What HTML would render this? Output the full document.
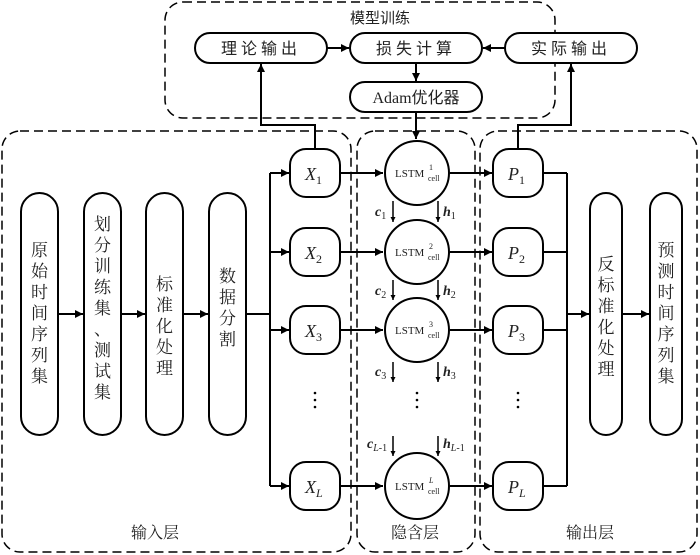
<!DOCTYPE html>
<html><head><meta charset="utf-8"><style>
html,body{margin:0;padding:0;background:#fff;}
svg{display:block;}
text{font-family:"Liberation Serif","Noto Serif CJK SC","Noto Sans CJK SC",serif;fill:#222;}
.cj{font-family:"Noto Sans CJK SC","WenQuanYi Zen Hei",sans-serif;}
</style></head><body>
<svg width="700" height="555" viewBox="0 0 700 555" xmlns="http://www.w3.org/2000/svg">
<defs>
<marker id="a" viewBox="0 0 10 10" refX="10" refY="5" markerWidth="8" markerHeight="8" markerUnits="userSpaceOnUse" orient="auto"><path d="M0,0 L10,5 L0,10 z" fill="#000"/></marker>
<marker id="s" viewBox="0 0 10 10" refX="10" refY="5" markerWidth="5" markerHeight="7" markerUnits="userSpaceOnUse" orient="auto"><path d="M0,0 L10,5 L0,10 z" fill="#000"/></marker>
</defs>
<g fill="none" stroke="#000" stroke-width="1.5" stroke-dasharray="9,5">
<rect x="165" y="2" width="390" height="116" rx="18"/>
<rect x="2" y="131" width="349" height="421" rx="18"/>
<rect x="357" y="131" width="118" height="421" rx="18"/>
<rect x="480" y="131" width="217" height="421" rx="18"/>
</g>
<text x="380" y="23" font-size="15" text-anchor="middle" class="cj">模型训练</text>
<g fill="#fff" stroke="#000" stroke-width="2">
<rect x="195" y="33" width="132" height="30" rx="15"/>
<rect x="350" y="33" width="132" height="30" rx="15"/>
<rect x="505" y="33" width="132" height="30" rx="15"/>
<rect x="350" y="82" width="132" height="30" rx="15"/>
</g>
<text x="261" y="54" font-size="16" text-anchor="middle" class="cj" letter-spacing="4">理论输出</text>
<text x="416" y="54" font-size="16" text-anchor="middle" class="cj" letter-spacing="4">损失计算</text>
<text x="571" y="54" font-size="16" text-anchor="middle" class="cj" letter-spacing="4">实际输出</text>
<text x="416" y="103" font-size="16" text-anchor="middle">Adam<tspan class="cj">优化器</tspan></text>
<g fill="none" stroke="#000" stroke-width="2">
<line x1="327" y1="48" x2="349" y2="48" marker-end="url(#a)"/>
<line x1="505" y1="48" x2="483" y2="48" marker-end="url(#a)"/>
<line x1="416" y1="63" x2="416" y2="81" marker-end="url(#a)"/>
<line x1="416" y1="112" x2="416" y2="139" marker-end="url(#a)"/>
<polyline points="315,148 315,125 261,125 261,64" marker-end="url(#a)"/>
<polyline points="518,148 518,125 571,125 571,64" marker-end="url(#a)"/>
<!-- left pills -->
<rect x="21" y="193" width="37" height="242" rx="18.5"/>
<rect x="84" y="193" width="37" height="242" rx="18.5"/>
<rect x="146" y="193" width="37" height="242" rx="18.5"/>
<rect x="209" y="193" width="37" height="242" rx="18.5"/>
<rect x="590" y="193" width="32" height="242" rx="16"/>
<rect x="650" y="193" width="32" height="242" rx="16"/>
<line x1="58" y1="314" x2="83" y2="314" marker-end="url(#a)"/>
<line x1="121" y1="314" x2="145" y2="314" marker-end="url(#a)"/>
<line x1="183" y1="314" x2="208" y2="314" marker-end="url(#a)"/>
<line x1="246" y1="314" x2="270" y2="314"/>
<line x1="270" y1="173" x2="270" y2="486"/>
<line x1="270" y1="173" x2="289" y2="173" marker-end="url(#a)"/>
<line x1="270" y1="252" x2="289" y2="252" marker-end="url(#a)"/>
<line x1="270" y1="330" x2="289" y2="330" marker-end="url(#a)"/>
<line x1="270" y1="486" x2="289" y2="486" marker-end="url(#a)"/>
<line x1="340" y1="173" x2="383" y2="173" marker-end="url(#a)"/>
<line x1="340" y1="252" x2="383" y2="252" marker-end="url(#a)"/>
<line x1="340" y1="330" x2="383" y2="330" marker-end="url(#a)"/>
<line x1="340" y1="486" x2="383" y2="486" marker-end="url(#a)"/>
<line x1="450" y1="173" x2="492" y2="173" marker-end="url(#a)"/>
<line x1="450" y1="252" x2="492" y2="252" marker-end="url(#a)"/>
<line x1="450" y1="330" x2="492" y2="330" marker-end="url(#a)"/>
<line x1="450" y1="486" x2="492" y2="486" marker-end="url(#a)"/>
<line x1="543" y1="173" x2="567" y2="173"/>
<line x1="543" y1="252" x2="567" y2="252"/>
<line x1="543" y1="330" x2="567" y2="330"/>
<line x1="543" y1="486" x2="567" y2="486"/>
<line x1="567" y1="173" x2="567" y2="486"/>
<line x1="567" y1="314" x2="589" y2="314" marker-end="url(#a)"/>
<line x1="622" y1="314" x2="649" y2="314" marker-end="url(#a)"/>
</g>
<g fill="none" stroke="#000" stroke-width="1.5">
<line x1="393" y1="201" x2="393" y2="222" marker-end="url(#s)"/>
<line x1="438" y1="201" x2="438" y2="222" marker-end="url(#s)"/>
<line x1="393" y1="280" x2="393" y2="300" marker-end="url(#s)"/>
<line x1="438" y1="280" x2="438" y2="300" marker-end="url(#s)"/>
<line x1="393" y1="362" x2="393" y2="382" marker-end="url(#s)"/>
<line x1="438" y1="362" x2="438" y2="382" marker-end="url(#s)"/>
<line x1="393" y1="436" x2="393" y2="456" marker-end="url(#s)"/>
<line x1="438" y1="436" x2="438" y2="456" marker-end="url(#s)"/>
</g>
<g fill="#fff" stroke="#000" stroke-width="2">
<rect x="290" y="149" width="50" height="48" rx="16"/>
<rect x="290" y="228" width="50" height="48" rx="16"/>
<rect x="290" y="306" width="50" height="48" rx="16"/>
<rect x="290" y="462" width="50" height="48" rx="16"/>
<rect x="493" y="149" width="50" height="48" rx="16"/>
<rect x="493" y="228" width="50" height="48" rx="16"/>
<rect x="493" y="306" width="50" height="48" rx="16"/>
<rect x="493" y="462" width="50" height="48" rx="16"/>
<circle cx="417" cy="173" r="32"/>
<circle cx="417" cy="252" r="32"/>
<circle cx="417" cy="330" r="32"/>
<ellipse cx="417" cy="486" rx="32" ry="33"/>
</g>
<g font-size="18" font-style="italic">
<text x="305" y="180">X<tspan font-size="12" font-style="normal" dy="4">1</tspan></text>
<text x="305" y="259">X<tspan font-size="12" font-style="normal" dy="4">2</tspan></text>
<text x="305" y="337">X<tspan font-size="12" font-style="normal" dy="4">3</tspan></text>
<text x="305" y="493">X<tspan font-size="12" dy="4">L</tspan></text>
<text x="508" y="180">P<tspan font-size="12" font-style="normal" dy="4">1</tspan></text>
<text x="508" y="259">P<tspan font-size="12" font-style="normal" dy="4">2</tspan></text>
<text x="508" y="337">P<tspan font-size="12" font-style="normal" dy="4">3</tspan></text>
<text x="508" y="493">P<tspan font-size="12" dy="4">L</tspan></text>
</g>
<g font-size="11">
<text x="395" y="177">LSTM</text><text x="429" y="170" font-size="8">1</text><text x="428" y="181" font-size="8">cell</text>
<text x="395" y="256">LSTM</text><text x="429" y="249" font-size="8">2</text><text x="428" y="260" font-size="8">cell</text>
<text x="395" y="334">LSTM</text><text x="429" y="327" font-size="8">3</text><text x="428" y="338" font-size="8">cell</text>
<text x="395" y="490">LSTM</text><text x="429" y="483" font-size="8" font-style="italic">L</text><text x="428" y="494" font-size="8">cell</text>
</g>
<g font-size="14" font-weight="bold" font-style="italic">
<text x="375" y="216">c<tspan font-size="10" font-weight="normal" font-style="normal" dy="3">1</tspan></text>
<text x="443" y="216">h<tspan font-size="10" font-weight="normal" font-style="normal" dy="3">1</tspan></text>
<text x="375" y="295">c<tspan font-size="10" font-weight="normal" font-style="normal" dy="3">2</tspan></text>
<text x="443" y="295">h<tspan font-size="10" font-weight="normal" font-style="normal" dy="3">2</tspan></text>
<text x="375" y="376">c<tspan font-size="10" font-weight="normal" font-style="normal" dy="3">3</tspan></text>
<text x="443" y="376">h<tspan font-size="10" font-weight="normal" font-style="normal" dy="3">3</tspan></text>
<text x="367" y="448">c<tspan font-size="10" font-weight="normal" dy="3">L</tspan><tspan font-size="10" font-weight="normal" font-style="normal">-1</tspan></text>
<text x="443" y="448">h<tspan font-size="10" font-weight="normal" dy="3">L</tspan><tspan font-size="10" font-weight="normal" font-style="normal">-1</tspan></text>
</g>
<g fill="#000">
<circle cx="315" cy="393" r="1.3"/><circle cx="315" cy="400" r="1.3"/><circle cx="315" cy="407" r="1.3"/>
<circle cx="417" cy="393" r="1.3"/><circle cx="417" cy="400" r="1.3"/><circle cx="417" cy="407" r="1.3"/>
<circle cx="518" cy="393" r="1.3"/><circle cx="518" cy="400" r="1.3"/><circle cx="518" cy="407" r="1.3"/>
</g>
<g font-size="17" text-anchor="middle" class="cj">
<text x="39.5" y="256"><tspan x="39.5">原</tspan><tspan x="39.5" dy="21">始</tspan><tspan x="39.5" dy="21">时</tspan><tspan x="39.5" dy="21">间</tspan><tspan x="39.5" dy="21">序</tspan><tspan x="39.5" dy="21">列</tspan><tspan x="39.5" dy="21">集</tspan></text>
<text x="102.5" y="230"><tspan x="102.5">划</tspan><tspan x="102.5" dy="21">分</tspan><tspan x="102.5" dy="21">训</tspan><tspan x="102.5" dy="21">练</tspan><tspan x="102.5" dy="21">集</tspan><tspan x="102.5" dy="21">、</tspan><tspan x="102.5" dy="21">测</tspan><tspan x="102.5" dy="21">试</tspan><tspan x="102.5" dy="21">集</tspan></text>
<text x="164.5" y="290"><tspan x="164.5">标</tspan><tspan x="164.5" dy="21">准</tspan><tspan x="164.5" dy="21">化</tspan><tspan x="164.5" dy="21">处</tspan><tspan x="164.5" dy="21">理</tspan></text>
<text x="227.5" y="282"><tspan x="227.5">数</tspan><tspan x="227.5" dy="21">据</tspan><tspan x="227.5" dy="21">分</tspan><tspan x="227.5" dy="21">割</tspan></text>
<text x="606" y="270"><tspan x="606">反</tspan><tspan x="606" dy="21">标</tspan><tspan x="606" dy="21">准</tspan><tspan x="606" dy="21">化</tspan><tspan x="606" dy="21">处</tspan><tspan x="606" dy="21">理</tspan></text>
<text x="666" y="256"><tspan x="666">预</tspan><tspan x="666" dy="21">测</tspan><tspan x="666" dy="21">时</tspan><tspan x="666" dy="21">间</tspan><tspan x="666" dy="21">序</tspan><tspan x="666" dy="21">列</tspan><tspan x="666" dy="21">集</tspan></text>
</g>
<g font-size="16" text-anchor="middle" class="cj">
<text x="155" y="538">输入层</text>
<text x="415" y="538">隐含层</text>
<text x="590" y="538">输出层</text>
</g>
</svg>
</body></html>
